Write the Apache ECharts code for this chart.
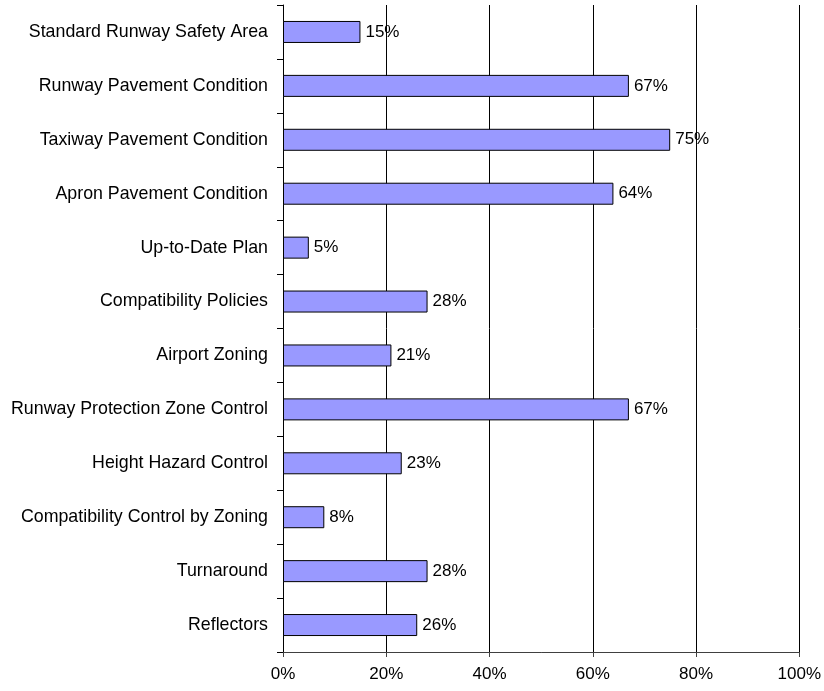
<!DOCTYPE html>
<html><head><meta charset="utf-8">
<script src="https://cdn.jsdelivr.net/npm/echarts@6/dist/echarts.min.js"></script>
<style>html,body{margin:0;padding:0;background:#fff}#c{width:824px;height:691px}</style>
</head><body><div id="c"></div>
<script>
const categories = ["Standard Runway Safety Area","Runway Pavement Condition","Taxiway Pavement Condition","Apron Pavement Condition","Up-to-Date Plan","Compatibility Policies","Airport Zoning","Runway Protection Zone Control","Height Hazard Control","Compatibility Control by Zoning","Turnaround","Reflectors"];
const values = [15,67,75,64,5,28,21,67,23,8,28,26];
const xTicks = [0,20,40,60,80,100];

const chart = echarts.init(document.getElementById('c'), null, {renderer:'canvas'});
const font = '"Liberation Sans", Arial, sans-serif';
chart.setOption({
  animation:false,
  grid:{left:283, right:24, top:5, bottom:39, containLabel:false},
  xAxis:{type:'value', min:xTicks[0], max:xTicks[xTicks.length-1], interval:20,
    axisLine:{show:true, lineStyle:{color:'#404040', width:1}},
    axisTick:{show:true, length:5, lineStyle:{color:'#404040'}},
    axisLabel:{formatter:v=>v+'%', color:'#000', fontFamily:font, fontSize:17, margin:14},
    splitLine:{show:true, lineStyle:{color:'#000', width:1}}},
  yAxis:{type:'category', data:categories, inverse:true,
    axisLine:{show:true, lineStyle:{color:'#000', width:1}},
    axisTick:{show:true, length:6, lineStyle:{color:'#000'}},
    axisLabel:{color:'#000', fontFamily:font, fontSize:17.8, margin:15}},
  series:[{type:'bar', data:values, barWidth:22,
    itemStyle:{color:'#9999FF', borderColor:'#000', borderWidth:1},
    label:{show:true, position:'right', distance:5, formatter:p=>p.value+'%', color:'#000', fontFamily:font, fontSize:17}}]
});
</script></body></html>
